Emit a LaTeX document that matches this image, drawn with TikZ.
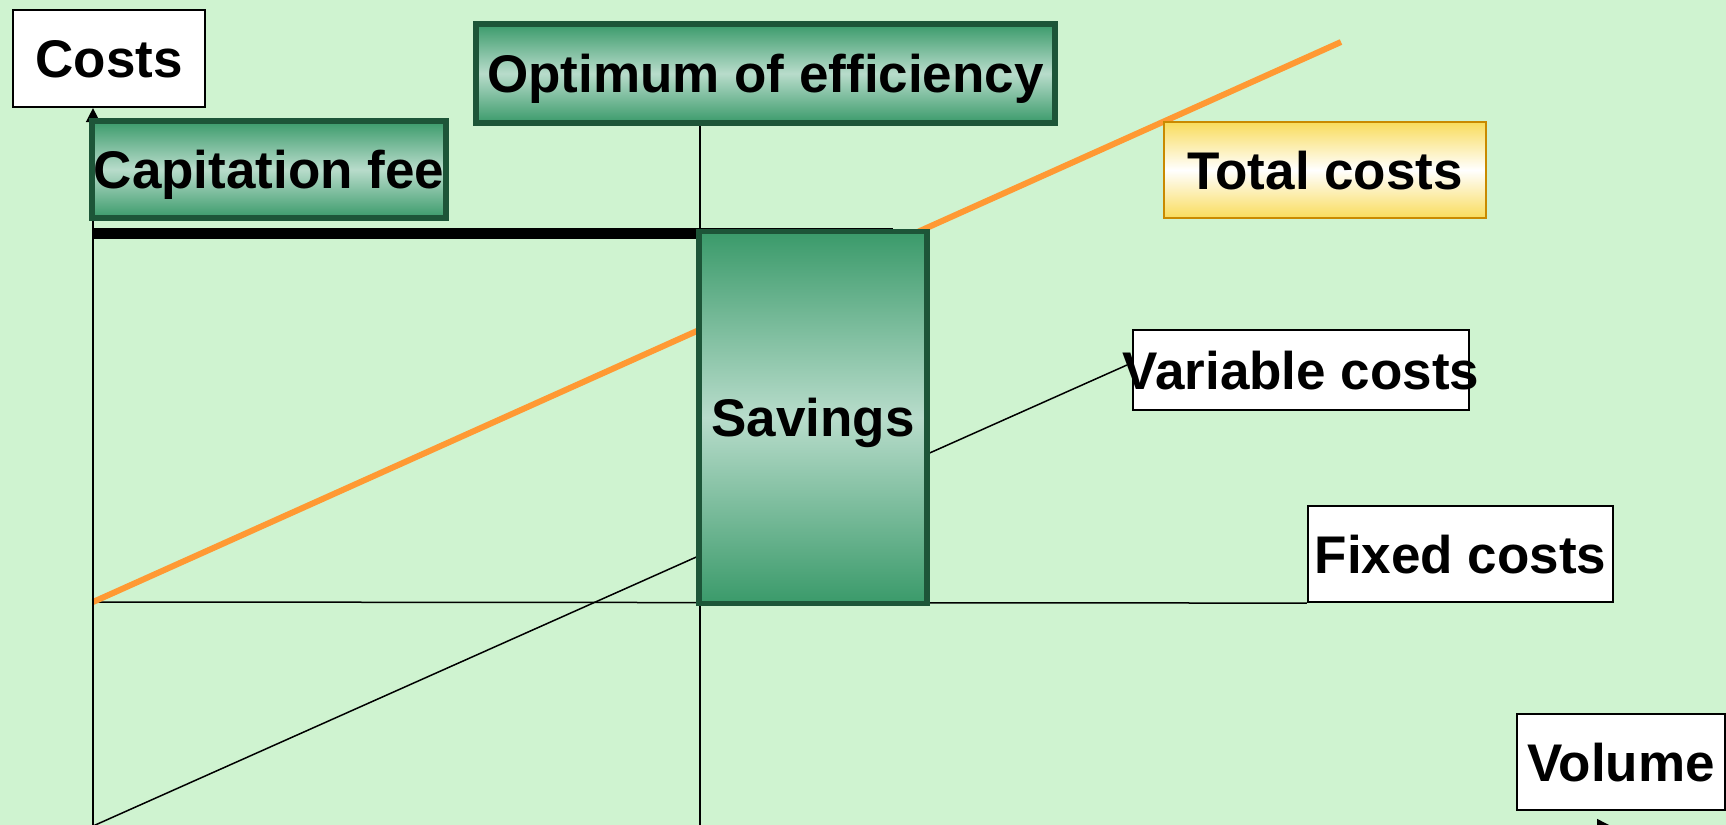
\documentclass[tikz,border=0pt]{standalone}
\usepackage{fontspec}
\setmainfont{Liberation Sans}
\usetikzlibrary{arrows.meta}
\definecolor{bg}{HTML}{CFF3D0}
\definecolor{gdark}{HTML}{3A9A6A}
\definecolor{glight}{HTML}{B8DCCB}
\definecolor{gborder}{HTML}{1D5538}
\definecolor{ylw}{HTML}{F9DC5C}
\definecolor{yborder}{HTML}{C98A00}
\definecolor{orng}{HTML}{FF9933}
\tikzset{
  lbl/.style={inner sep=0pt, text height=19pt, text depth=0pt, font=\fontsize{26.5}{30}\selectfont\bfseries, text=black},
  whitebox/.style={lbl, draw=black, line width=1.1pt, fill=white},
  greenbox/.style={lbl, draw=gborder, line width=2.6pt, top color=gdark, bottom color=gdark, middle color=glight},
  yellowbox/.style={lbl, draw=yborder, line width=1pt, top color=ylw, bottom color=ylw, middle color=white},
  thin/.style={line width=0.75pt, draw=black},
  orangeline/.style={line width=3pt, draw=orng},
}
\newcommand{\boxtxt}[1]{\makebox[0pt]{#1}}
\begin{document}
\begin{tikzpicture}[x=0.5pt,y=-0.5pt]
\fill[bg] (0,0) rectangle (1726,825);
\useasboundingbox (0,0) rectangle (1726,825);
% coordinates
\coordinate (yaxbot) at (93,826);
\coordinate (xaxend) at (1611,826);
\coordinate (fixstart) at (93,602);
\coordinate (varstart) at (93,826);
\coordinate (varend) at (1127,365);
\coordinate (totstart) at (93,602);
\coordinate (totend) at (1341,42);
\coordinate (capstart) at (93,233);
\coordinate (capend) at (893,233);
\coordinate (optbot) at (700,826);
% nodes (boxes)
\node[whitebox, minimum width=96pt, minimum height=48.5pt] (costs) at (109,58.5) {\boxtxt{Costs}};
\node[whitebox, minimum width=152.5pt, minimum height=48pt] (fixed) at (1460.5,554) {\boxtxt{Fixed costs}};
\node[whitebox, minimum width=104pt, minimum height=48pt] (volume) at (1621,762) {\boxtxt{Volume}};
% lines behind boxes
\draw[thin] (fixstart) -- (fixed.south west);
\draw[thin] (varstart) -- (varend);
\draw[thin] (700,123) -- (optbot);
\draw[orangeline] (totstart) -- (totend);
\draw[line width=5.5pt, draw=black] (capstart) -- (capend);
\draw[thin, -{Triangle[width=7pt,length=7pt]}] (yaxbot) -- (costs.south -| yaxbot);
\draw[thin, -{Triangle[width=7pt,length=7pt]}] (yaxbot) -- (xaxend);
% boxes on top
\node[greenbox, minimum width=289.5pt, minimum height=49.5pt] (optimum) at (765.5,73.5) {\boxtxt{Optimum of efficiency}};
\node[greenbox, minimum width=177pt, minimum height=48.5pt] (capfee) at (269,169.5) {\boxtxt{Capitation fee}};
\node[greenbox, minimum width=114pt, minimum height=186pt] (savings) at (813,417.5) {\boxtxt{Savings}};
\node[yellowbox, minimum width=161pt, minimum height=48pt] (total) at (1325,170) {\boxtxt{Total costs}};
\node[whitebox, minimum width=168pt, minimum height=40pt] (variable) at (1301,370) {\boxtxt{Variable costs}};
\end{tikzpicture}
\end{document}
